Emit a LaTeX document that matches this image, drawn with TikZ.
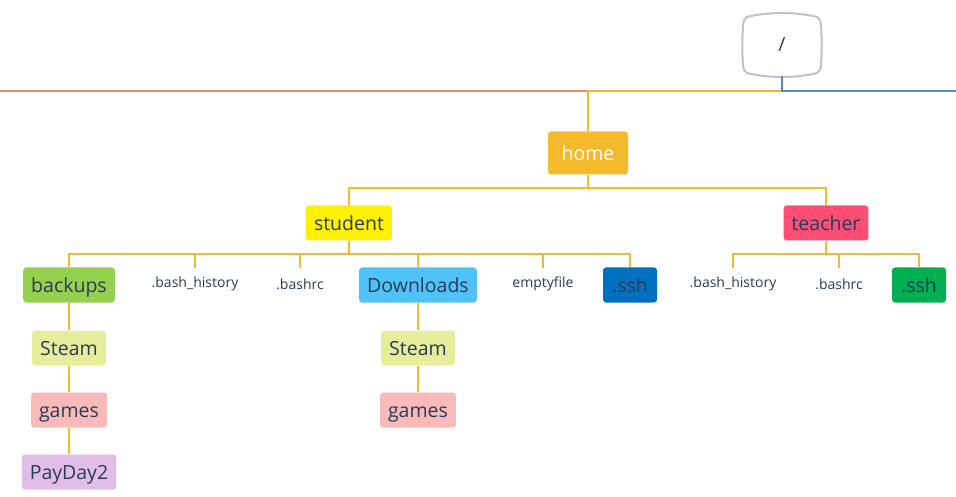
\documentclass[tikz,border=0pt]{standalone}
\usepackage{fontspec}
\setmainfont{Open Sans}
\usepackage{tikz}
\usetikzlibrary{calc}
\definecolor{navy}{RGB}{44,58,88}
\definecolor{linkyellow}{RGB}{243,186,44}
\definecolor{linkorange}{RGB}{238,138,103}
\definecolor{linkblue}{RGB}{76,138,214}
\definecolor{rootgray}{RGB}{190,195,200}
\tikzset{
	folder/.style={
		rectangle,
		rounded corners=3pt,
		text=navy,
		font=\fontsize{19.5}{22}\selectfont,
		text height=17pt,
		text depth=2pt,
		minimum height=35pt,
		minimum width=54pt,
		inner xsep=8pt,
		inner ysep=0pt
	},
	file/.style={
		text=navy,
		font=\fontsize{14}{16}\selectfont,
		minimum height=32pt,
		inner sep=0pt
	},
	link/.style={linkyellow, line width=2pt}
}

\begin{document}
\begin{tikzpicture}[x=1pt, y=-1pt]
	\useasboundingbox (0,0) rectangle (956,497);
	
	\node(root) at (782,45) [minimum width=78pt, minimum height=62pt, inner sep=0pt, text=navy, font=\fontsize{19.5}{22}\selectfont] {/};
	\draw[rootgray, line width=2pt, shift={(root.center)}]
		(-31,-29) .. controls (-10,-33) and (10,-33) .. (31,-29)
		.. controls (38,-28) and (39,-24) .. (39,-18)
		.. controls (40,-6) and (40,6) .. (39,18)
		.. controls (39,24) and (38,28) .. (31,29)
		.. controls (10,33) and (-10,33) .. (-31,29)
		.. controls (-38,28) and (-39,24) .. (-39,18)
		.. controls (-40,6) and (-40,-6) .. (-39,-18)
		.. controls (-39,-24) and (-38,-28) .. (-31,-29) -- cycle;
	\coordinate(west_end) at (0,91);
	\coordinate(east_end) at (956,91);
	
	\node(home) at (588,153) [folder, fill=linkyellow, text=white, minimum width=80pt, minimum height=43pt] {home};
	\node(student) at (349,223) [folder, fill=yellow] {student};
	\node(teacher) at (826,223) [folder, fill={rgb,255:red,255;green,77;blue,115}] {teacher};
	
	% student
	\node(backups) at (69,285) [folder, fill={rgb,255:red,148;green,209;blue,78}] {backups};
	\node(s_hist) at (195,284) [file] {.bash\_history};
	\node(s_rc) at (300,284) [file] {.bashrc};
	\node(downloads) at (418,285) [folder, fill={rgb,255:red,79;green,195;blue,247}] {Downloads};
	\node(emptyfile) at (543,284) [file] {emptyfile};
	\node(s_ssh) at (630,285) [folder, fill={rgb,255:red,0;green,112;blue,192}] {.ssh};
	
	\node(steam1) at (69,348) [folder, fill={rgb,255:red,230;green,238;blue,156}] {Steam};
	\node(games1) at (69,410) [folder, fill={rgb,255:red,248;green,187;blue,186}] {games};
	\node(payday) at (69,472) [folder, fill={rgb,255:red,225;green,190;blue,231}] {PayDay2};
	\node(steam2) at (418,348) [folder, fill={rgb,255:red,230;green,238;blue,156}] {Steam};
	\node(games2) at (418,410) [folder, fill={rgb,255:red,248;green,187;blue,186}] {games};
	
	% teacher
	\node(t_hist) at (733,284) [file] {.bash\_history};
	\node(t_rc) at (839,284) [file] {.bashrc};
	\node(t_ssh) at (919,285) [folder, fill={rgb,255:red,0;green,176;blue,80}] {.ssh};
	
	\draw[linkorange, line width=2pt] (west_end) -- (west_end -| home.north);
	\draw[link] (root.south) ++(0,15) -| (home.north);
	\draw[linkblue, line width=2pt] (root.south) |- (east_end);
	
	\draw[link] (home.south) -- ++(0,13) -| (student.north);
	\draw[link] (home.south) -- ++(0,13) -| (teacher.north);
	
	\foreach \child in {backups, s_hist, s_rc, downloads, emptyfile, s_ssh}
		\draw[link] (student.south) -- ++(0,13) -| (\child.north);
	\foreach \child in {t_hist, t_rc, t_ssh}
		\draw[link] (teacher.south) -- ++(0,13) -| (\child.north);
	
	\draw[link] (backups) -- (steam1);
	\draw[link] (steam1) -- (games1);
	\draw[link] (games1) -- (payday);
	\draw[link] (downloads) -- (steam2);
	\draw[link] (steam2) -- (games2);
	
\end{tikzpicture}
\end{document}
